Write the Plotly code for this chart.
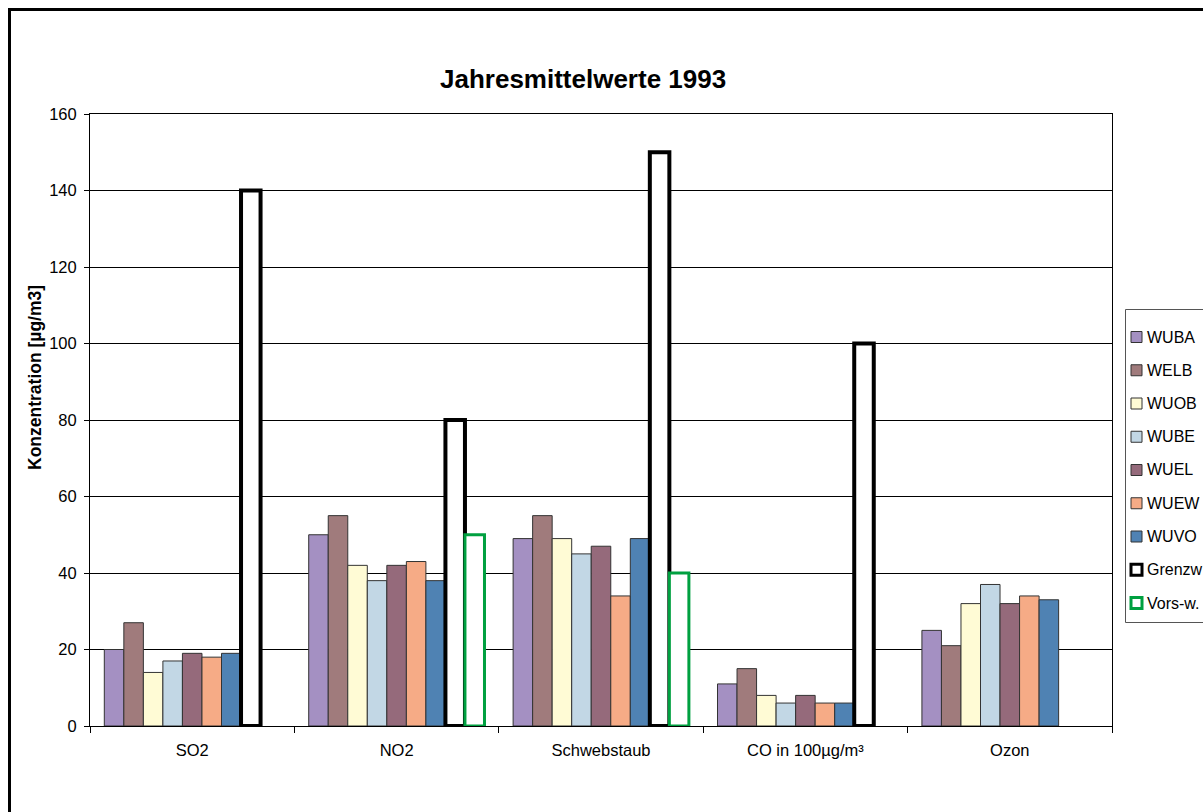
import plotly.graph_objects as go

# Categories and measured annual means (µg/m3)
categories = ["SO2", "NO2", "Schwebstaub", "CO in 100µg/m³", "Ozon"]

series_names = ["WUBA", "WELB", "WUOB", "WUBE", "WUEL", "WUEW", "WUVO"]
wuba = [20, 50, 49, 11, 25]
welb = [27, 55, 55, 15, 21]
wuob = [14, 42, 49, 8, 32]
wube = [17, 38, 45, 6, 37]
wuel = [19, 42, 47, 8, 32]
wuew = [18, 43, 34, 6, 34]
wuvo = [19, 38, 49, 6, 33]
station_values = [wuba, welb, wuob, wube, wuel, wuew, wuvo]
station_colors = ["#A490C2", "#A07B7C", "#FFFBD5", "#C2D7E5", "#956A7B", "#F6AB86", "#4F82B3"]

# Limit values (Grenzwert) and precautionary values (Vorsorgewert)
limit_name = "Grenzw"
grenzwert = [140, 80, 150, 100, None]
prec_name = "Vors-w."
vorsorgewert = [None, 50, 40, None, None]

font_family = "Liberation Sans, Arial, sans-serif"

# plot-area geometry in pixels (used to place paper-referenced decorations)
PL, PR, PT, PB = 90, 1112, 114, 726
def px_x(x):
    return (x - PL) / (PR - PL)
def px_y(y):
    return (PB - y) / (PB - PT)

fig = go.Figure()

entries = []
for name, vals, col in zip(series_names, station_values, station_colors):
    line = dict(color="#333333", width=1)
    fig.add_trace(go.Bar(name=name, x=categories, y=vals,
                         marker=dict(color=col, line=line)))
    entries.append((name, col, line))

limit_line = dict(color="black", width=4)
fig.add_trace(go.Bar(name=limit_name, x=categories, y=grenzwert,
                     marker=dict(color="white", line=limit_line)))
entries.append((limit_name, "white", dict(color="black", width=3)))

prec_line = dict(color="#00A040", width=3)
fig.add_trace(go.Bar(name=prec_name, x=categories, y=vorsorgewert,
                     marker=dict(color="white", line=prec_line)))
entries.append((prec_name, "white", dict(color="#00A040", width=3)))

# outer frame and legend box with a swatch and label per series
shapes = [
    dict(type="rect", xref="paper", yref="paper",
         x0=px_x(9.5), x1=1.3, y0=-0.3, y1=px_y(9.5),
         line=dict(color="black", width=3), fillcolor="rgba(0,0,0,0)", layer="below"),
    dict(type="rect", xref="paper", yref="paper",
         x0=px_x(1125.5), x1=px_x(1230), y0=px_y(622.5), y1=px_y(309.5),
         line=dict(color="#555555", width=1), fillcolor="white"),
]
annotations = []
for i, (name, col, line) in enumerate(entries):
    cy = 337 + i * 33.25
    shapes.append(dict(type="rect", xref="paper", yref="paper",
                       x0=px_x(1131), x1=px_x(1142), y0=px_y(cy + 5.5), y1=px_y(cy - 5.5),
                       line=line, fillcolor=col))
    annotations.append(dict(text=name, xref="paper", yref="paper",
                            x=px_x(1145), y=px_y(cy), xanchor="left", yanchor="middle",
                            showarrow=False,
                            font=dict(family=font_family, size=16, color="black")))

annotations += [
    dict(text="<b>Jahresmittelwerte 1993</b>", xref="paper", yref="paper",
         x=px_x(583), y=px_y(79), xanchor="center", yanchor="middle",
         showarrow=False, font=dict(family=font_family, size=26, color="black")),
    dict(text="<b>Konzentration [µg/m3]</b>", xref="paper", yref="paper",
         x=px_x(35), y=px_y(378), xanchor="center", yanchor="middle",
         textangle=-90, showarrow=False,
         font=dict(family=font_family, size=17.5, color="black")),
]

fig.update_layout(
    width=1203, height=812,
    margin=dict(l=PL, r=1203 - PR, t=PT, b=812 - PB, autoexpand=False),
    paper_bgcolor="white", plot_bgcolor="white",
    font=dict(family=font_family, size=16, color="black"),
    barmode="group", bargap=0.14, bargroupgap=0,
    showlegend=False,
    shapes=shapes,
    annotations=annotations,
)

fig.update_xaxes(
    type="category", showgrid=False, showline=True, linecolor="black", linewidth=1,
    mirror=True, ticks="outside", tickson="boundaries", ticklen=6, tickcolor="black",
    ticklabelstandoff=9, tickfont=dict(size=16.5),
)
fig.update_yaxes(
    range=[0, 160], dtick=20, showgrid=True, gridcolor="black", gridwidth=1,
    showline=True, linecolor="black", linewidth=1, mirror=True,
    ticks="outside", ticklen=5, tickcolor="black", ticklabelstandoff=4,
    tickfont=dict(size=16.5), zeroline=False,
)

fig.write_html("out.html")
